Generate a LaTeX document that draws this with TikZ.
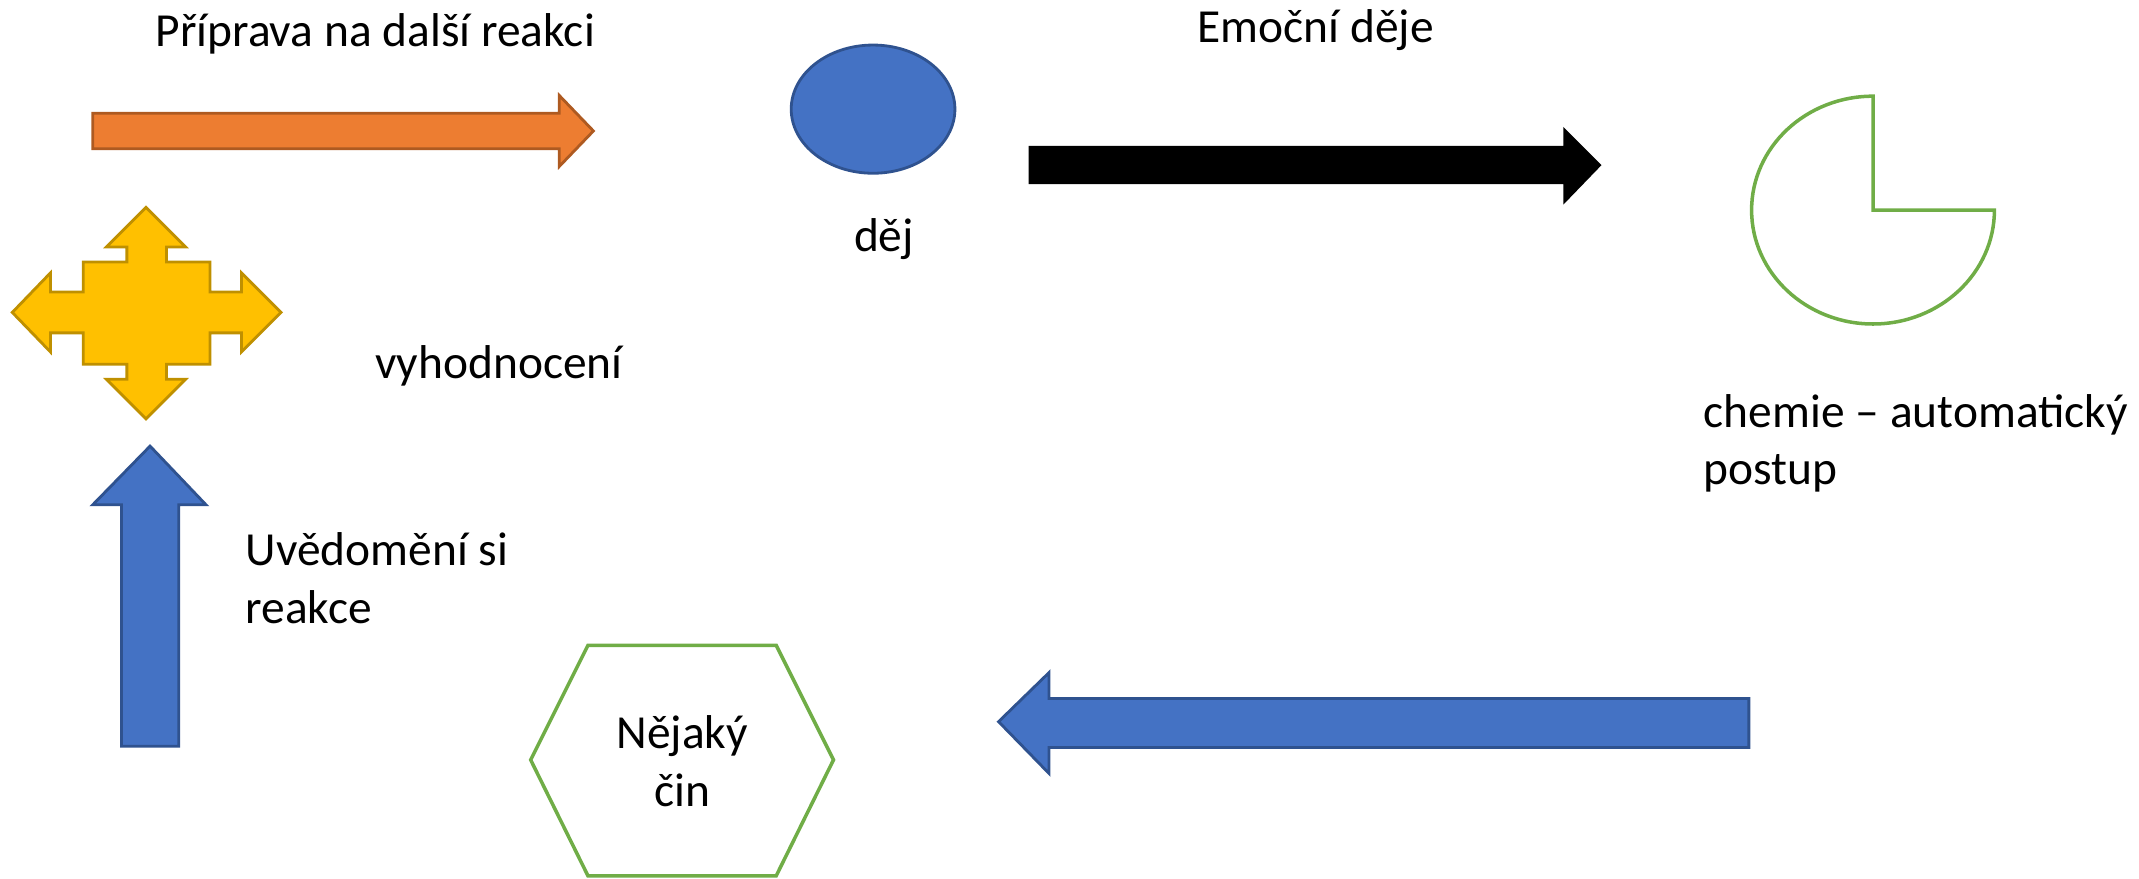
\documentclass[tikz,border=0pt]{standalone}
\usepackage{fontspec}
\usepackage{xcolor}
\setmainfont{Carlito}
\definecolor{oranzova}{HTML}{ED7D31}
\definecolor{oranzovaokraj}{HTML}{AE5A21}
\definecolor{zluta}{HTML}{FFC000}
\definecolor{zlutaokraj}{HTML}{BF9000}
\definecolor{modra}{HTML}{4472C4}
\definecolor{modraokraj}{HTML}{2F528F}
\definecolor{zelena}{HTML}{70AD47}
\usetikzlibrary{shapes.geometric}

\begin{document}
\begin{tikzpicture}[x=0.013642cm, y=-0.013642cm, line width=0.8pt,
		popis/.style={font=\fontsize{13.5}{16.4}\selectfont, inner sep=0pt},
		sipka/.style={line join=miter}]
				\useasboundingbox (0,0) rectangle (1568,644);
				\path[sipka, fill=oranzova, draw=oranzovaokraj] (68,83) -- (410,83) -- (410,70) -- (435,96) -- (410,122) -- (410,109) -- (68,109) -- cycle;
				\node[popis, anchor=west] (priprava) at (113,25) {Příprava na další reakci};
				\path[sipka, fill=zluta, draw=zlutaokraj] (9,229) -- (37,200) -- (37,214) -- (61,214) -- (61,192) -- (93,192) -- (93,181) -- (78,181) -- (107,152) -- (136,181) -- (122,181) -- (122,192) -- (154,192) -- (154,214) -- (177,214) -- (177,200) -- (206,229) -- (177,258) -- (177,244) -- (154,244) -- (154,267) -- (122,267) -- (122,278) -- (136,278) -- (107,307) -- (78,278) -- (93,278) -- (93,267) -- (61,267) -- (61,244) -- (37,244) -- (37,258) -- cycle;
				\node[popis, anchor=west] (vyhodnoceni) at (274,268) {vyhodnocení};
				\path[sipka, fill=modra, draw=modraokraj] (110,327) -- (151,370) -- (131,370) -- (131,547) -- (89,547) -- (89,370) -- (68,370) -- cycle;
				\node[popis, anchor=west, align=left] (uvedomeni) at (179,424) {Uvědomění si\\reakce};
				\node[ellipse, fill=modra, draw=modraokraj, minimum width=1.637cm, minimum height=1.282cm, inner sep=0pt] (udalost) at (640,80) {};
				\node[popis] (dej) at (648,175) {děj};
				\node[popis, anchor=west] (emocni) at (877,22) {Emoční děje};
				\path[sipka, fill=black] (754,107) -- (1146,107) -- (1146,93) -- (1174,121) -- (1146,150) -- (1146,135) -- (754,135) -- cycle;
				\draw[zelena, line width=1pt] (1373,71) -- (1373,154) -- (1462,154) arc[start angle=0, end angle=270, x radius=89, y radius=83.5] -- cycle;
				\node[popis, anchor=west, align=left] (chemie) at (1248,325) {chemie – automatický\\postup};
				\path[sipka, fill=modra, draw=modraokraj] (732,529) -- (769,493) -- (769,512) -- (1282,512) -- (1282,548) -- (769,548) -- (769,567) -- cycle;
				\draw[zelena, line width=1pt] (389,557) -- (431,473) -- (569,473) -- (611,557) -- (569,642) -- (431,642) -- cycle;
				\node[popis, align=center] (cin) at (500,558) {Nějaký\\čin};
			\end{tikzpicture}
\end{document}
